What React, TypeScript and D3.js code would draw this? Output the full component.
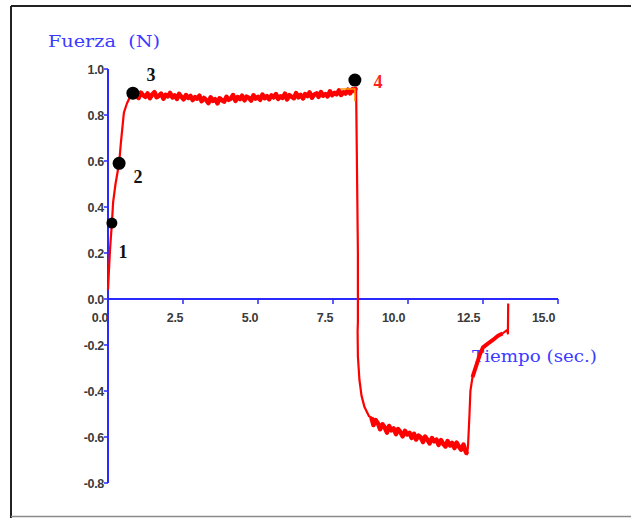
import React from "react";
import * as d3 from "d3";

// ---- data ----
const riseT = [0.0, 0.03, 0.07, 0.13, 0.17, 0.25, 0.37, 0.43, 0.53, 0.63, 0.72];
const riseF = [0.04, 0.12, 0.22, 0.33, 0.42, 0.5, 0.59, 0.68, 0.81, 0.85, 0.875];

const plateauT = [0.8, 0.88, 0.95, 1.02, 1.1, 1.17, 1.25, 1.32, 1.4, 1.47, 1.55, 1.62, 1.7, 1.77, 1.85, 1.92, 2.0, 2.07, 2.15, 2.22, 2.3, 2.37, 2.45, 2.52, 2.6, 2.67, 2.75, 2.82, 2.9, 2.97, 3.05, 3.12, 3.2, 3.27, 3.35, 3.42, 3.5, 3.57, 3.65, 3.72, 3.8, 3.87, 3.95, 4.02, 4.1, 4.17, 4.25, 4.32, 4.4, 4.47, 4.55, 4.62, 4.7, 4.77, 4.85, 4.92, 5.0, 5.07, 5.15, 5.22, 5.3, 5.37, 5.45, 5.52, 5.6, 5.67, 5.75, 5.82, 5.9, 5.97, 6.05, 6.12, 6.2, 6.27, 6.35, 6.42, 6.5, 6.57, 6.65, 6.72, 6.8, 6.87, 6.95, 7.02, 7.1, 7.17, 7.25, 7.32, 7.4, 7.47, 7.55, 7.62, 7.7, 7.77, 7.85, 7.92, 8.0, 8.07, 8.15, 8.22, 8.27];
const plateauF = [0.878, 0.896, 0.882, 0.874, 0.897, 0.886, 0.879, 0.894, 0.873, 0.889, 0.899, 0.877, 0.884, 0.893, 0.871, 0.888, 0.881, 0.896, 0.876, 0.885, 0.87, 0.892, 0.879, 0.868, 0.887, 0.874, 0.883, 0.865, 0.878, 0.871, 0.884, 0.86, 0.874, 0.866, 0.852, 0.877, 0.861, 0.869, 0.851, 0.873, 0.864, 0.858, 0.879, 0.866, 0.872, 0.887, 0.861, 0.878, 0.869, 0.884, 0.864, 0.88, 0.874, 0.863, 0.886, 0.871, 0.879, 0.866, 0.889, 0.873, 0.882, 0.868, 0.885, 0.876, 0.891, 0.87, 0.881, 0.874, 0.893, 0.868, 0.886, 0.879, 0.873, 0.895, 0.877, 0.887, 0.872, 0.891, 0.882, 0.898, 0.875, 0.888, 0.894, 0.879, 0.9, 0.884, 0.891, 0.881, 0.903, 0.886, 0.896, 0.89, 0.907, 0.887, 0.899, 0.893, 0.91, 0.894, 0.912, 0.905, 0.919];

const dropT = [8.33, 8.33, 8.32, 8.33, 8.38, 8.45, 8.55, 8.7];
const dropF = [0.2, -0.1, -0.14, -0.25, -0.35, -0.42, -0.47, -0.51];

const lowT = [8.78, 8.85, 8.92, 9.0, 9.07, 9.15, 9.22, 9.3, 9.37, 9.45, 9.52, 9.6, 9.67, 9.75, 9.82, 9.9, 9.97, 10.05, 10.12, 10.2, 10.27, 10.35, 10.42, 10.5, 10.57, 10.65, 10.72, 10.8, 10.87, 10.95, 11.02, 11.1, 11.17, 11.25, 11.32, 11.4, 11.47, 11.55, 11.62, 11.7, 11.77, 11.85, 11.92, 11.97];
const lowF = [-0.515, -0.548, -0.526, -0.541, -0.566, -0.545, -0.558, -0.581, -0.552, -0.571, -0.563, -0.588, -0.566, -0.579, -0.597, -0.573, -0.589, -0.582, -0.604, -0.586, -0.611, -0.594, -0.601, -0.622, -0.598, -0.612, -0.628, -0.605, -0.619, -0.611, -0.634, -0.614, -0.629, -0.641, -0.618, -0.637, -0.626, -0.648, -0.624, -0.642, -0.655, -0.633, -0.662, -0.675];

const recoverT = [12.0, 12.05, 12.08, 12.15, 12.3, 12.4, 12.5, 12.65, 12.83, 13.0, 13.15, 13.3, 13.33, 13.34];
const recoverF = [-0.64, -0.5, -0.4, -0.34, -0.28, -0.24, -0.21, -0.195, -0.178, -0.16, -0.15, -0.135, -0.15, -0.02];

const markerT = [0.13, 0.37, 0.83, 8.23];
const markerF = [0.33, 0.59, 0.895, 0.952];
const markerLabels = ["1", "2", "3", "4"];

const xTicks = [0, 2.5, 5, 7.5, 10, 12.5, 15];
const xTickLabels = ["0.0", "2.5", "5.0", "7.5", "10.0", "12.5", "15.0"];
const yTicks = [1.0, 0.8, 0.6, 0.4, 0.2, 0.0, -0.2, -0.4, -0.6, -0.8];
const yTickLabels = ["1.0", "0.8", "0.6", "0.4", "0.2", "0.0", "-0.2", "-0.4", "-0.6", "-0.8"];

const cursorT = [7.75, 8.23, 8.23];
const cursorF = [0.913, 0.913, 0.86];

export default function App() {
  const W = 631, H = 518;
  const x = d3.scaleLinear().domain([0, 15]).range([108, 558]);
  const y = d3.scaleLinear().domain([-0.8, 1.0]).range([483, 69]);

  const toPts = (ts: number[], fs: number[]) => ts.map((t, i) => [t, fs[i]] as [number, number]);
  const allPts = [
    ...toPts(riseT, riseF),
    ...toPts(plateauT, plateauF),
    ...toPts(dropT, dropF),
    ...toPts(lowT, lowF),
    ...toPts(recoverT, recoverF),
  ];
  const line = d3.line<[number, number]>().x((d) => x(d[0])).y((d) => y(d[1]));

  const axisColor = "#2a2aff";
  const tickTextColor = "#3a3a3a";
  const labelOffsets = [
    { dx: 11, dy: 35 },
    { dx: 19, dy: 20 },
    { dx: 18, dy: -12 },
    { dx: 23, dy: 8 },
  ];

  return (
    <svg width={W} height={H} style={{ position: "absolute", left: 0, top: 0, background: "#fff" }}>
      {/* frame */}
      <line x1={11} y1={6} x2={W} y2={6} stroke="#222" strokeWidth={2} />
      <line x1={11} y1={6} x2={11} y2={H} stroke="#222" strokeWidth={2} />
      <line x1={11} y1={516.5} x2={W} y2={516.5} stroke="#8a8a8a" strokeWidth={1.5} />

      {/* axes */}
      <line x1={x(0)} y1={y(0)} x2={x(15)} y2={y(0)} stroke={axisColor} strokeWidth={2} />
      <line x1={x(0)} y1={y(1.0)} x2={x(0)} y2={y(-0.8)} stroke={axisColor} strokeWidth={2} />
      {xTicks.map((t, i) =>
        i === 0 ? null : (
          <line key={"xt" + i} x1={x(t)} y1={y(0)} x2={x(t)} y2={y(0) + 5} stroke={axisColor} strokeWidth={1.5} />
        )
      )}
      {yTicks.map((v, i) => (
        <line key={"yt" + i} x1={x(0) - 4} y1={y(v)} x2={x(0)} y2={y(v)} stroke={axisColor} strokeWidth={1.5} />
      ))}
      {xTicks.map((t, i) => (
        <text
          key={"xl" + i}
          x={x(t) - 8 - (xTickLabels[i].length - 3) * 6.5}
          y={y(0) + 23}
          textAnchor="middle"
          fontFamily="Liberation Sans, Arial, sans-serif"
          fontWeight="bold"
          fontSize={12.5}
          fill={tickTextColor}
          letterSpacing={-0.3}
        >
          {xTickLabels[i]}
        </text>
      ))}
      {yTicks.map((v, i) => (
        <text
          key={"yl" + i}
          x={x(0) - 4}
          y={y(v) + 4.5}
          textAnchor="end"
          fontFamily="Liberation Sans, Arial, sans-serif"
          fontWeight="bold"
          fontSize={12.5}
          fill={tickTextColor}
          letterSpacing={-0.3}
        >
          {yTickLabels[i]}
        </text>
      ))}

      {/* axis titles */}
      <text x={48} y={47} fontFamily="DejaVu Serif, serif" fontSize={16} fill="#3b3bff" textLength={112} lengthAdjust="spacingAndGlyphs" xmlSpace="preserve">
        {"Fuerza  (N)"}
      </text>
      <text x={472} y={362} fontFamily="DejaVu Serif, serif" fontSize={16} fill="#3b3bff" textLength={125} lengthAdjust="spacingAndGlyphs">
        Tiempo (sec.)
      </text>

      {/* data line */}
      <path d={line(allPts) || ""} fill="none" stroke="#ff0000" strokeWidth={2.2} strokeLinejoin="round" />
      <path d={line(toPts(plateauT, plateauF)) || ""} fill="none" stroke="#ff0000" strokeWidth={4.5} strokeLinejoin="round" />
      <path d={line(toPts(lowT, lowF)) || ""} fill="none" stroke="#ff0000" strokeWidth={4.5} strokeLinejoin="round" />
      <path d={line(toPts(recoverT.slice(3, 11), recoverF.slice(3, 11))) || ""} fill="none" stroke="#ff0000" strokeWidth={4} strokeLinejoin="round" />

      {/* cursor */}
      <path d={line(toPts(cursorT, cursorF)) || ""} fill="none" stroke="#ff9a00" strokeWidth={1.5} />

      {/* markers */}
      {markerT.map((t, i) => (
        <circle key={"m" + i} cx={x(t)} cy={y(markerF[i])} r={i === 0 ? 5.5 : 6.5} fill="#000" />
      ))}
      {markerT.map((t, i) => (
        <text
          key={"ml" + i}
          x={x(t) + labelOffsets[i].dx}
          y={y(markerF[i]) + labelOffsets[i].dy}
          textAnchor="middle"
          fontFamily="Liberation Serif, Times New Roman, serif"
          fontWeight="bold"
          fontSize={18}
          fill={i === 3 ? "#ff2020" : "#111"}
        >
          {markerLabels[i]}
        </text>
      ))}
    </svg>
  );
}
